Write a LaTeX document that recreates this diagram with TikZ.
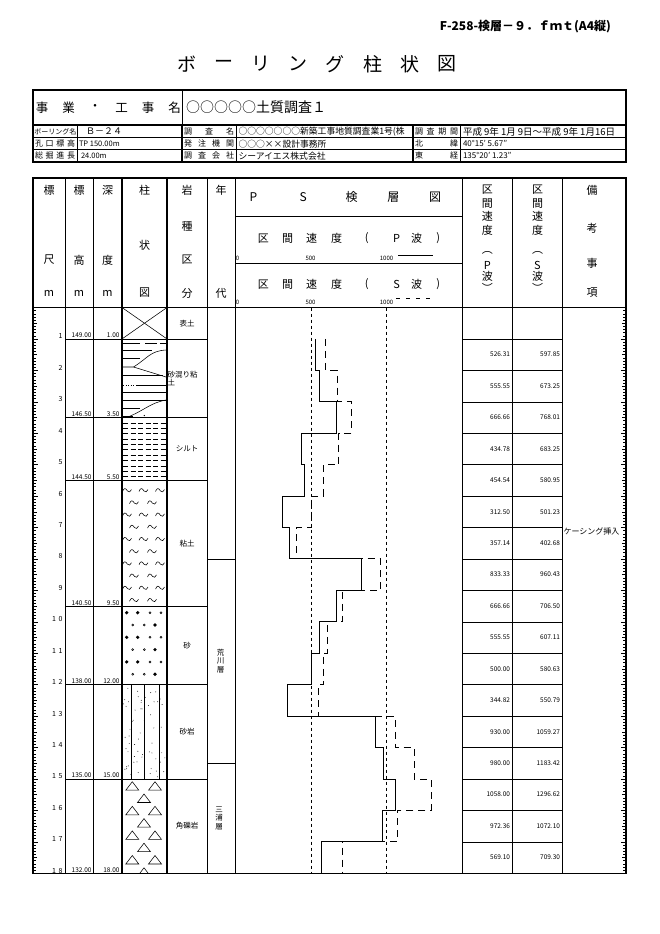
\documentclass[tikz,border=0pt]{standalone}
\usepackage{fontspec}
\setmainfont{Noto Sans CJK JP}
\begin{document}
\begin{tikzpicture}[x=1pt,y=-1pt,
 declare function={yd(\d)=307.5+31.43*\d; xv(\v)=235.7+0.1507*\v;},
 fr/.style={line width=1.3pt},
 cl/.style={line width=0.9pt},
 tl/.style={line width=0.55pt},
 txt/.style={inner sep=0pt,outer sep=0pt},
 hd/.style={txt,font=\fontsize{11}{11}\selectfont},
 hdb/.style={txt,font=\fontsize{12}{12}\selectfont},
 ttl/.style={txt,font=\fontsize{19}{19}\selectfont},
 info/.style={txt,anchor=west,font=\fontsize{8}{8}\selectfont},
 sm/.style={txt,font=\fontsize{6.5}{6.5}\selectfont},
 dep/.style={txt,anchor=east,font=\fontsize{7}{7}\selectfont},
 rk/.style={txt,font=\fontsize{7.5}{7.5}\selectfont},
 pline/.style={line width=0.9pt},
 sline/.style={line width=0.9pt,dash pattern=on 7pt off 5pt},
 refl/.style={line width=0.7pt,dash pattern=on 3.5pt off 2.5pt},
 tld/.pic={\draw[tl] (-4.5,1) .. controls (-3,-2.8) and (-1.5,-2.8) .. (0.5,0.5) .. controls (2,2.2) and (3.5,1.5) .. (4.5,-1);}
]
\fill[white] (0,0) rectangle (660,934);
\useasboundingbox (0,0) rectangle (660,934);

% file name and title
\node[txt,anchor=east,font=\bfseries\fontsize{12}{12}\selectfont] (fname) at (611,27) {F-258-検層－９．ｆｍｔ(A4縦)};
\foreach \c [count=\n] in {ボ,ー,リ,ン,グ,柱,状,図}
  \node[ttl] (ttl\n) at ({187+37.1*(\n-1)},64) {\c};

% ---------- info table ----------
\draw[fr] (33,90) rectangle (626,124.5);
\draw[cl] (182,90) -- (182,124.5);
\foreach \c/\x [count=\n] in {事/42,業/68.5,・/95,工/121.5,事/148,名/174.5}
  \node[txt,font=\fontsize{12.5}{12.5}\selectfont] (pj\n) at (\x,107.5) {\c};
\node[txt,anchor=west,font=\fontsize{14}{14}\selectfont] (pjname) at (186,107.5) {○○○○○土質調査１};

\draw[fr] (33,125.5) rectangle (626,162);
\draw[line width=1.1pt] (33,137.7) -- (626,137.7) (33,149.8) -- (626,149.8);
\draw[cl] (77,125.5) -- (77,162) (236,125.5) -- (236,162) (460,125.5) -- (460,162);
\draw[line width=1.1pt] (182,125.5) -- (182,162) (413,125.5) -- (413,162);

\node[info,font=\fontsize{7}{7}\selectfont] (l1) at (34.5,131.6) {\makebox[41.5pt]{ボ\hfill ー\hfill リ\hfill ン\hfill グ\hfill 名}};
\node[info] (l2) at (35,143.75) {\makebox[40pt]{孔\hfill 口\hfill 標\hfill 高}};
\node[info] (l3) at (35,155.9) {\makebox[40pt]{総\hfill 掘\hfill 進\hfill 長}};
\node[info,font=\fontsize{9}{9}\selectfont] (v1) at (86,131.6) {Ｂ－２４};
\node[info,font=\fontsize{7.5}{7.5}\selectfont] (v2) at (79,143.75) {TP 150.00m};
\node[info,font=\fontsize{7.5}{7.5}\selectfont] (v3) at (81,155.9) {24.00m};
\node[info] (l4) at (184,131.6) {\makebox[50pt]{調\hfill 査\hfill 名}};
\node[info] (l5) at (184,143.75) {\makebox[50pt]{発\hfill 注\hfill 機\hfill 関}};
\node[info] (l6) at (184,155.9) {\makebox[50pt]{調\hfill 査\hfill 会\hfill 社}};
\node[info,font=\fontsize{8.8}{8.8}\selectfont] (v4) at (238.5,131.6) {○○○○○○○新築工事地質調査業1号(株};
\node[info,font=\fontsize{8.8}{8.8}\selectfont] (v5) at (238.5,143.75) {○○○××設計事務所};
\node[info,font=\fontsize{8.8}{8.8}\selectfont] (v6) at (238.5,155.9) {シーアイエス株式会社};
\node[info] (l7) at (415,131.6) {\makebox[43pt]{調\hfill 査\hfill 期\hfill 間}};
\node[info] (l8) at (415,143.75) {\makebox[43pt]{北\hfill 緯}};
\node[info] (l9) at (415,155.9) {\makebox[43pt]{東\hfill 経}};
\node[info,font=\fontsize{9.5}{9.5}\selectfont] (v7) at (463,131.6) {平成 9年 1月 9日〜平成 9年 1月16日};
\node[info,font=\fontsize{8}{8}\selectfont] (v8) at (463,143.75) {40°15' 5.67"};
\node[info,font=\fontsize{8}{8}\selectfont] (v9) at (463,155.9) {135°20' 1.23"};

% ---------- main table frame ----------
\foreach \x in {65,93,462,512}
  \draw[cl] (\x,178) -- (\x,{yd(18)});
\foreach \x in {122,167}
  \draw[line width=1.2pt] (\x,178) -- (\x,{yd(18)});
\foreach \x in {207,235,562}
  \draw[tl] (\x,178) -- (\x,{yd(18)});
\draw[tl] (235,216.7) -- (462,216.7);
\draw[line width=1.2pt] (235,263.3) -- (462,263.3);
\draw[cl] (33,307.5) -- (626,307.5);
\draw[fr] (33,178) rectangle (626,{yd(18)});

% header texts
\foreach \c/\x/\y [count=\n] in {標/49/190,尺/49/260,m/49/293,標/79/190,高/79/260,m/79/293,深/107.5/190,度/107.5/260,m/107.5/293,柱/144.5/190,状/144.5/245.5,図/144.5/293,岩/187/190,種/187/226.5,区/187/260,分/187/293,年/221/190,代/221/293,備/592/190,考/592/228,事/592/263,項/592/293}
  \node[hd] (hh\n) at (\x,\y) {\c};
\foreach \c/\x [count=\n] in {P/253.3,S/303.3,検/351.7,層/393.3,図/435}
  \node[hdb] (ps\n) at (\x,197) {\c};
\foreach \c/\x [count=\n] in {区/263.3,間/287.5,速/311.7,度/336.7,{(}/366.7,P/396.7,波/416.7,{)}/438.3}
  \node[hd] (pw\n) at (\x,238.5) {\c};
\foreach \c/\x [count=\n] in {区/263.3,間/287.5,速/311.7,度/336.7,{(}/366.7,S/396.7,波/416.7,{)}/438.3}
  \node[hd] (sw\n) at (\x,284.3) {\c};
\foreach \c/\y [count=\n] in {区/190,間/203.3,速/216.7,度/230,︵/253.3,P/265,波/276.7,︶/288.3}
  \node[hd] (vp\n) at (487.3,\y) {\c};
\foreach \c/\y [count=\n] in {区/190,間/203.3,速/216.7,度/230,︵/253.3,S/265,波/276.7,︶/288.3}
  \node[hd] (vs\n) at (537.5,\y) {\c};

% scale labels and legend
\foreach \t/\x [count=\n] in {0/237.5,500/310.5,1000/386.5} {
  \node[txt,font=\fontsize{6}{6}\selectfont] (sp\n) at (\x,258.5) {\t};
  \node[txt,font=\fontsize{6}{6}\selectfont] (ss\n) at (\x,302) {\t};
}
\coordinate (lpa) at (398,255); \coordinate (lpb) at (433,255);
\coordinate (lsa) at (396,298.5); \coordinate (lsb) at (433,298.5);
\draw[pline] (lpa) -- (lpb);
\draw[sline,dash pattern=on 4pt off 6pt] (lsa) -- (lsb);

% depth rulers
\foreach \i in {1,...,179} {
  \pgfmathsetmacro\tk{ifthenelse(mod(\i,10)==0,5,ifthenelse(mod(\i,5)==0,4,3))}
  \draw[tl] (33,{yd(\i/10)}) -- ++(\tk,0);
  \draw[tl] (626,{yd(\i/10)}) -- ++(-\tk,0);
}
\foreach \d in {1,...,9}
  \node[dep] (dl\d) at (62.5,{yd(\d)-2.5}) {\d};
\foreach \d in {0,...,8}
  \node[dep] (dm\d) at (62.5,{yd(10+\d)-2.5}) {1\hspace{2.5pt}\d};

% layer boundaries and labels
\foreach \d in {1,3.5,5.5,9.5,12,15}
  \draw[tl] (65,{yd(\d)}) -- (207,{yd(\d)});
\foreach \d/\e/\p [count=\n] in {1/149.00/1.00,3.5/146.50/3.50,5.5/144.50/5.50,9.5/140.50/9.50,12/138.00/12.00,15/135.00/15.00,18/132.00/18.00} {
  \node[sm,anchor=south east] (el\n) at (91.5,{yd(\d)-1}) {\e};
  \node[sm,anchor=south east] (dp\n) at (119.5,{yd(\d)-1}) {\p};
}
\node[rk] (r1) at (187,{yd(0.5)}) {表土};
\node[rk,anchor=west] (r2) at (167.5,375) {砂混り粘};
\node[rk,anchor=west] (r2b) at (167.5,382.5) {土};
\node[rk] (r3) at (187,{yd(4.5)}) {シルト};
\node[rk] (r4) at (187,{yd(7.5)}) {粘土};
\node[rk] (r5) at (187,{yd(10.75)}) {砂};
\node[rk] (r6) at (187,{yd(13.5)}) {砂岩};
\node[rk] (r7) at (187,{yd(16.5)}) {角礫岩};

% age column
\draw[tl] (207,{yd(8)}) -- (235,{yd(8)});
\draw[tl] (207,{yd(14.5)}) -- (235,{yd(14.5)});
\node[txt,align=center,font=\fontsize{7.5}{8.5}\selectfont] (ag1) at (220.5,661) {荒\\川\\層};
\node[txt,align=center,font=\fontsize{7.5}{8.5}\selectfont] (ag2) at (219,818.5) {三\\浦\\層};

% ---------- column patterns ----------
% top soil
\draw[tl] (122,{yd(0)}) -- (167,{yd(1)}) (167,{yd(0)}) -- (122,{yd(1)});
% sandy clay
\draw[tl] (123,343.5) -- (140,343.5) (145,343.5) -- (157,343.5) (160,343.5) -- (166,343.5);
\draw[tl] (123,350.7) -- (152,350.7);
\draw[tl] (166,350) .. controls (150,351) and (148,358) .. (133.5,367);
\draw[tl] (123,358.3) -- (140,358.3);
\draw[tl] (123,367) -- (133.5,367) -- (166,377);
\draw[tl] (123,375) -- (163,375);
\draw[tl,dotted] (123,385) -- (136,385);
\draw[tl] (136,385) -- (166,385);
\draw[tl] (123,392.7) -- (166,392.7);
\draw[tl] (123,400) -- (166,400);
\draw[tl] (166,400) .. controls (150,403) and (145,410) .. (128,417);
\draw[tl] (123,408.3) -- (140,408.3);
\draw[tl] (123,416.5) -- (133,416.5);
\fill (144.3,415.5) circle[radius=0.7pt];
% silt
\foreach \k in {0,...,10}
  \draw[tl,dash pattern=on 5pt off 2.5pt] (123,{yd(3.5)+5.5+5.35*\k}) -- (166,{yd(3.5)+5.5+5.35*\k});
% clay
\foreach \k in {0,...,9} {
  \pgfmathsetmacro\yy{490.5+12.2*\k}
  \ifodd\k
    \pic at (134,\yy) {tld}; \pic at (152,\yy) {tld};
  \else
    \pic at (127,\yy) {tld}; \pic at (143.5,\yy) {tld}; \pic at (160,\yy) {tld};
  \fi
}
% sand
\foreach \k in {0,...,5} {
  \pgfmathsetmacro\yy{612.7+12.3*\k}
  \ifodd\k
    \draw[tl] (132.7,\yy) circle[radius=1pt] (144.3,\yy) circle[radius=1pt];
    \fill (155,\yy) circle[radius=1.8pt];
  \else
    \fill (126.7,\yy) circle[radius=1.8pt] (137.7,\yy) circle[radius=1.8pt];
    \draw[tl] (150,\yy) circle[radius=1pt] (161,\yy) circle[radius=1pt];
  \fi
}
% sandstone
\foreach \x in {131,144.3,159.3}
  \draw[tl] (\x,{yd(12)}) -- (\x,{yd(15)});
\pgfmathsetseed{7}
\foreach \i in {1,...,60} {
  \pgfmathsetmacro\rx{123.5+42*rnd}
  \pgfmathsetmacro\ry{yd(12)+2+(yd(15)-yd(12)-4)*rnd}
  \fill (\rx,\ry) circle[radius=0.45pt];
}
% breccia
\begin{scope}
\clip (122,{yd(15)}) rectangle (167,{yd(18)});
\foreach \k in {0,...,7} {
  \pgfmathsetmacro\yy{781.7+12.3*\k}
  \ifodd\k
    \draw[tl] (137.5,\yy+8.5) -- (144,\yy) -- (150.5,\yy+8.5) -- cycle;
  \else
    \draw[tl] (125.8,\yy+8.5) -- (132.3,\yy) -- (138.8,\yy+8.5) -- cycle;
    \draw[tl] (148.5,\yy+8.5) -- (155,\yy) -- (161.5,\yy+8.5) -- cycle;
  \fi
}
\end{scope}

% ---------- PS log ----------
\draw[refl] ({xv(500)},307.5) -- ({xv(500)},{yd(18)});
\draw[refl] ({xv(1000)},307.5) -- ({xv(1000)},{yd(18)});
\draw[pline] ({xv(526.31)},{yd(1)}) |- ({xv(555.55)},{yd(2)}) |- ({xv(666.66)},{yd(3)}) |- ({xv(434.78)},{yd(4)}) |- ({xv(454.54)},{yd(5)}) |- ({xv(312.50)},{yd(6)}) |- ({xv(357.14)},{yd(7)}) |- ({xv(833.33)},{yd(8)}) |- ({xv(666.66)},{yd(9)}) |- ({xv(555.55)},{yd(10)}) |- ({xv(500.00)},{yd(11)}) |- ({xv(344.82)},{yd(12)}) |- ({xv(930.00)},{yd(13)}) |- ({xv(980.00)},{yd(14)}) |- ({xv(1058.00)},{yd(15)}) |- ({xv(972.36)},{yd(16)}) |- ({xv(569.10)},{yd(17)}) -- ({xv(569.10)},{yd(18)});
\draw[sline] ({xv(597.85)},{yd(1)}) |- ({xv(673.25)},{yd(2)}) |- ({xv(768.01)},{yd(3)}) |- ({xv(683.25)},{yd(4)}) |- ({xv(580.95)},{yd(5)}) |- ({xv(501.23)},{yd(6)}) |- ({xv(402.68)},{yd(7)}) |- ({xv(960.43)},{yd(8)}) |- ({xv(706.50)},{yd(9)}) |- ({xv(607.11)},{yd(10)}) |- ({xv(580.63)},{yd(11)}) |- ({xv(550.79)},{yd(12)}) |- ({xv(1059.27)},{yd(13)}) |- ({xv(1183.42)},{yd(14)}) |- ({xv(1296.62)},{yd(15)}) |- ({xv(1072.10)},{yd(16)}) |- ({xv(709.30)},{yd(17)}) -- ({xv(709.30)},{yd(18)});

% ---------- interval velocities ----------
\foreach \d in {1,...,17}
  \draw[tl] (462,{yd(\d)}) -- (562,{yd(\d)});
\foreach \p/\s [count=\n] in {526.31/597.85,555.55/673.25,666.66/768.01,434.78/683.25,454.54/580.95,312.50/501.23,357.14/402.68,833.33/960.43,666.66/706.50,555.55/607.11,500.00/580.63,344.82/550.79,930.00/1059.27,980.00/1183.42,1058.00/1296.62,972.36/1072.10,569.10/709.30} {
  \node[sm,anchor=east] (cp\n) at (510,{yd(\n+0.5)}) {\p};
  \node[sm,anchor=east] (cs\n) at (560,{yd(\n+0.5)}) {\s};
}
\node[txt,anchor=west,font=\fontsize{8}{8}\selectfont] (note) at (563.5,531) {ケーシング挿入};
\end{tikzpicture}
\end{document}
